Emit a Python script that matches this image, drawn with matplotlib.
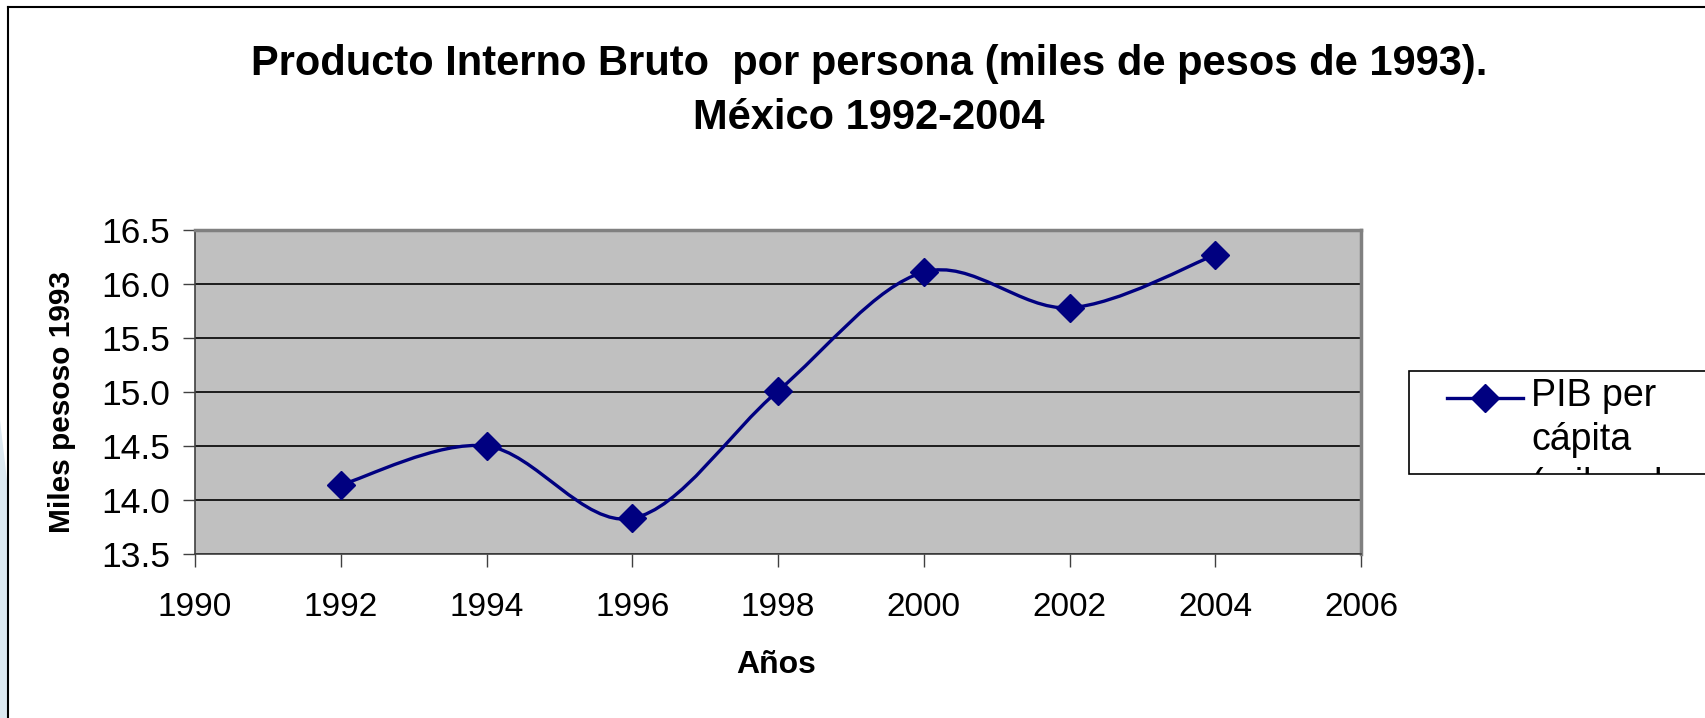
import numpy as np
import matplotlib
matplotlib.use("Agg")
import matplotlib.pyplot as plt
from matplotlib.path import Path
from matplotlib.patches import PathPatch, Rectangle, Polygon
from matplotlib.lines import Line2D
from matplotlib.transforms import Bbox, TransformedBbox

plt.rcParams['font.family'] = ['Liberation Sans', 'DejaVu Sans']

years = [1992, 1994, 1996, 1998, 2000, 2002, 2004]
pib = [14.14, 14.50, 13.83, 15.01, 16.11, 15.78, 16.27]
x_ticks = [1990, 1992, 1994, 1996, 1998, 2000, 2002, 2004, 2006]
y_ticks = [13.5, 14.0, 14.5, 15.0, 15.5, 16.0, 16.5]
title = "Producto Interno Bruto  por persona (miles de pesos de 1993).\nMéxico 1992-2004"
legend_label = "PIB per\ncápita\n(miles de pesos)"

W, H = 1705, 718
navy = "#000080"


def fx(px):
    return px / W


def fy(py):
    return 1 - py / H


def smooth_path(xs, ys):
    # excel style smoothed line: cubic bezier through the points
    pts = np.column_stack([xs, ys]).astype(float)
    n = len(pts)
    verts = [pts[0]]
    codes = [Path.MOVETO]
    for i in range(n - 1):
        p0 = pts[i - 1] if i > 0 else pts[i]
        p1 = pts[i]
        p2 = pts[i + 1]
        p3 = pts[i + 2] if i + 2 < n else pts[i + 1]
        c1 = p1 + (p2 - p0) / 6
        c2 = p2 - (p3 - p1) / 6
        verts += [c1, c2, p2]
        codes += [Path.CURVE4] * 3
    return Path(verts, codes)


fig = plt.figure(figsize=(W / 100, H / 100), dpi=100)
ax = fig.add_axes([fx(195), fy(554), fx(1361) - fx(195), fy(230) - fy(554)])
ax.set_facecolor("#C0C0C0")

ax.add_patch(PathPatch(smooth_path(years, pib), facecolor="none",
                       edgecolor=navy, lw=2.4, zorder=3))
ax.plot(years, pib, ls="none", marker="D", ms=14, color=navy, zorder=4)

ax.set_xlim(1990, 2006)
ax.set_ylim(13.5, 16.5)
ax.set_xticks(x_ticks)
ax.set_yticks(y_ticks)
ax.set_yticklabels([f"{v:.1f}" for v in y_ticks])
ax.grid(axis="y", color="black", lw=1.2)
ax.set_axisbelow(True)
ax.tick_params(axis="both", direction="out", length=9, width=1, colors="#404040",
               labelcolor="black")
ax.tick_params(axis="x", pad=18, labelsize=24)
ax.tick_params(axis="y", pad=9, labelsize=25.5)
for side in ["left", "bottom"]:
    ax.spines[side].set_color("#404040")
    ax.spines[side].set_linewidth(1.2)
for side in ["top", "right"]:
    ax.spines[side].set_color("#808080")
    ax.spines[side].set_linewidth(2.5)

fig.text(fx(62), fy(402), "Miles pesoso 1993", rotation=90, ha="center",
         va="center", fontsize=21.5, fontweight="bold")
fig.text(fx(776), fy(665), "Años", ha="center", va="center", fontsize=23,
         fontweight="bold")
fig.text(fx(869), fy(91), title, ha="center", va="center", fontsize=30,
         fontweight="bold", linespacing=1.45)

# outer frame and slide decoration
fig.add_artist(Line2D([fx(8), fx(8)], [fy(7), 0], color="black", lw=1.5))
fig.add_artist(Line2D([fx(8), 1], [fy(7), fy(7)], color="black", lw=1.5))
fig.add_artist(Polygon([[0, fy(420)], [fx(7), fy(480)], [fx(7), 0], [0, 0]],
                       closed=True, facecolor="#dce8f0", edgecolor="none"))

# legend box (cut off at the right edge)
box = Rectangle((fx(1409), fy(474)), 1 - fx(1409) + 0.01, fy(371) - fy(474),
                transform=fig.transFigure, facecolor="white", edgecolor="black",
                lw=1.2)
fig.add_artist(box)
fig.add_artist(Line2D([fx(1447), fx(1523)], [fy(398), fy(398)], color=navy, lw=2.4))
fig.add_artist(Line2D([fx(1485)], [fy(398)], color=navy, marker="D", ms=14, ls="none"))
clip = TransformedBbox(Bbox([[fx(1409), fy(474)], [1, fy(371)]]), fig.transFigure)
t = fig.text(fx(1531), fy(378), legend_label, ha="left", va="top", fontsize=27,
             linespacing=1.3)
t.set_clip_box(clip)
t.set_clip_on(True)

fig.savefig("out.png", dpi=100)
